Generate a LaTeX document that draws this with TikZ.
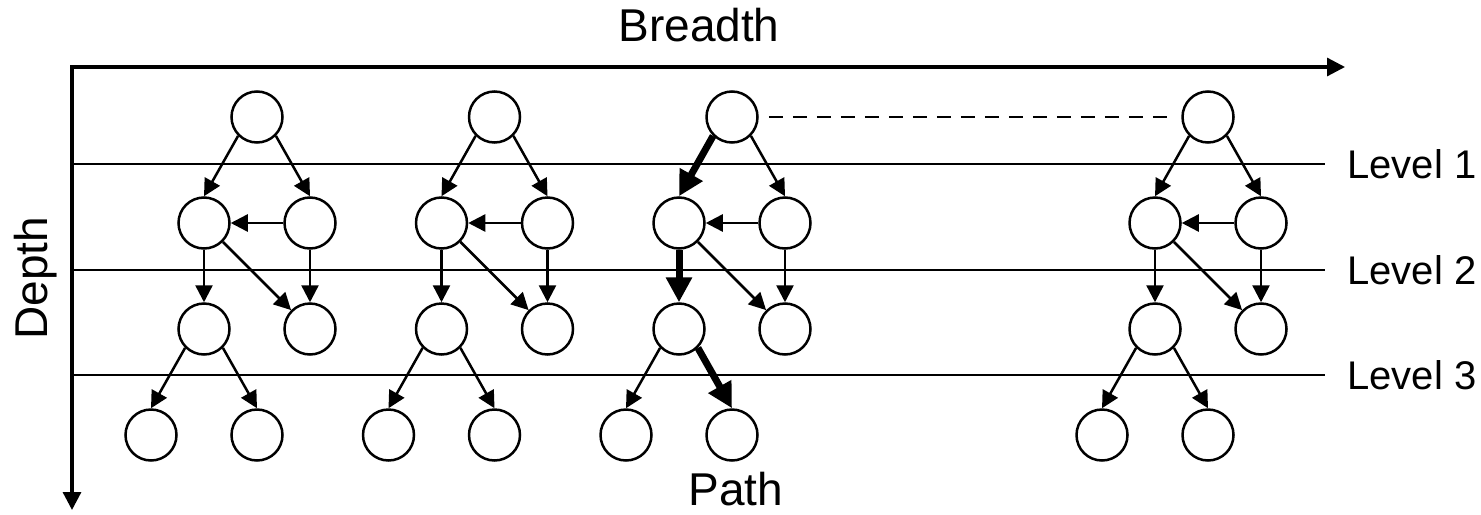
\documentclass[tikz,border=0pt]{standalone}
\usepackage{fontspec}
\setmainfont{Liberation Sans}
\usetikzlibrary{arrows.meta}

\tikzstyle{vtx} = [circle, draw, line width=1.25pt, minimum size=25.5pt, inner sep=0pt]
\tikzstyle{arr} = [line width=1.25pt, -{Triangle[length=8.5pt,width=8.5pt]}]
\tikzstyle{walk} = [line width=3.5pt, -{Triangle[length=12.5pt,width=12.5pt]}]
\tikzstyle{axl} = [inner sep=0pt, font=\fontsize{23}{27}\selectfont]
\tikzstyle{lvl} = [inner sep=0pt, font=\fontsize{20}{24}\selectfont, anchor=base west]

\begin{document}
\begin{tikzpicture}[x=0.5pt, y=-0.5pt]
\useasboundingbox (0,0) rectangle (1481,514);
% axes
\coordinate (bx) at (1345,67);
\coordinate (o) at (72,67);
\coordinate (dy) at (72,510);
\draw[line width=1.6pt, {Triangle[length=9pt,width=9pt]}-{Triangle[length=9pt,width=9pt]}] (bx) -- (o) -- (dy);
\node[axl, anchor=base] (br) at (699,41) {Breadth};
\node[axl, anchor=base] (pa) at (736,505) {Path};
\node[axl, anchor=base, rotate=90] (de) at (47,278) {Depth};
% levels
\foreach \n/\y in {1/164, 2/270, 3/375} {
	\draw[line width=1.4pt] (72,\y) -- (1325,\y);
	\node[lvl] (lv\n) at (1347,\y+14) {Level \n};
}
% trees
\foreach \t/\x/\s in {1/257/arr, 2/494.5/arr, 3/732/walk, 4/1208/arr} {
	\node[vtx] (r\t) at (\x,117) {};
	\node[vtx] (a\t) at (\x-53,223) {};
	\node[vtx] (b\t) at (\x+53,223) {};
	\node[vtx] (c\t) at (\x-53,329) {};
	\node[vtx] (d\t) at (\x+53,329) {};
	\node[vtx] (e\t) at (\x-106,435) {};
	\node[vtx] (f\t) at (\x,435) {};
	\draw[\s] (r\t.south west) -- (a\t.north);
	\draw[arr] (r\t.south east) -- (b\t.north);
	\draw[arr] (b\t.west) -- (a\t.east);
	\draw[\s] (a\t.south) -- (c\t.north);
	\draw[arr] (a\t.south east) -- (d\t.north west);
	\draw[arr] (b\t.south) -- (d\t.north);
	\draw[arr] (c\t.south west) -- (e\t.north);
	\draw[\s] (c\t.south east) -- (f\t.north);
}
\draw[line width=1.25pt, dash pattern=on 7pt off 5pt, shorten <=5pt, shorten >=5pt] (r3) -- (r4);
\end{tikzpicture}
\end{document}
